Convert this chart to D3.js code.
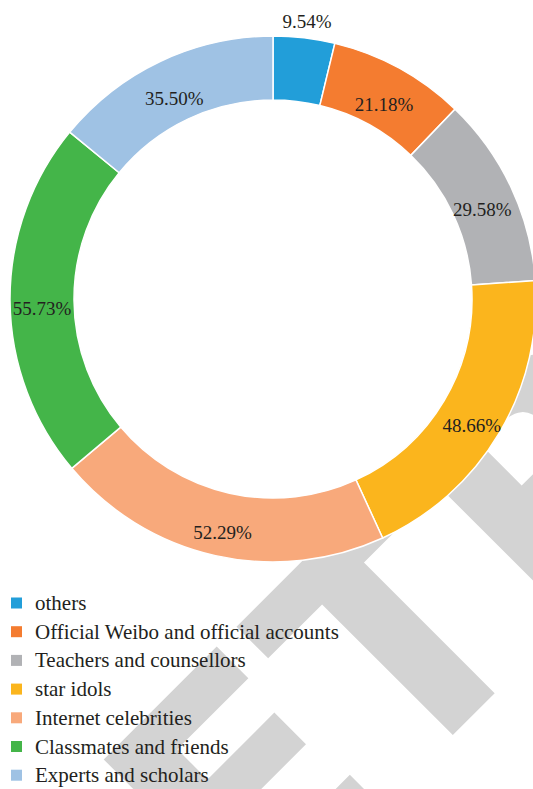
<!DOCTYPE html>
<html>
<head>
<meta charset="utf-8">
<script src="https://cdn.jsdelivr.net/npm/d3@7"></script>
<style>
  body { margin: 0; background: #fff; }
  svg { display: block; }
</style>
</head>
<body>
<svg width="533" height="789"></svg>
<script>
const categories = [
  'others',
  'Official Weibo and official accounts',
  'Teachers and counsellors',
  'star idols',
  'Internet celebrities',
  'Classmates and friends',
  'Experts and scholars'
];
const values = [9.54, 21.18, 29.58, 48.66, 52.29, 55.73, 35.50];
const colors = ['#229ed9', '#f47c30', '#b1b2b5', '#fbb51d', '#f8a97b', '#44b549', '#9fc2e4'];

const svg = d3.select('svg');
const cx = 273, cy = 299;
const outerR = 263, innerR = 199;

// watermark behind everything
const wm = svg.append('g')
    .attr('transform', 'rotate(-45)');
const wmText = wm.append('text')
    .attr('x', 0)
    .attr('y', 840)
    .style('font-family', '"DejaVu Sans", sans-serif')
    .style('font-weight', 'bold')
    .style('font-size', '315px')
    .style('fill', '#d3d3d3')
    .text('RETRACTED');
const tBox = wmText.node().getExtentOfChar(2);
wmText.attr('x', -170 - (tBox.x + tBox.width / 2));

const data = categories.map((c, i) => ({name: c, value: values[i], color: colors[i]}));
const pie = d3.pie().sort(null).value(d => d.value);
const arcs = pie(data);

const arc = d3.arc()
    .innerRadius(innerR)
    .outerRadius(outerR);

const g = svg.append('g')
    .attr('transform', `translate(${cx}, ${cy})`);

g.selectAll('path')
    .data(arcs)
    .enter()
    .append('path')
    .attr('d', arc)
    .style('fill', d => d.data.color)
    .style('stroke', '#fff')
    .style('stroke-width', '1.5px');

const fmt = d3.format('.2f');
g.selectAll('text.lbl')
    .data(arcs)
    .enter()
    .append('text')
    .attr('class', 'lbl')
    .attr('transform', d => {
      const a = (d.startAngle + d.endAngle) / 2;
      const r = (d.endAngle - d.startAngle) < 0.3 ? 288 : 231;
      return `translate(${r * Math.sin(a)}, ${-r * Math.cos(a) + 8.5})`;
    })
    .attr('text-anchor', 'middle')
    .attr('dominant-baseline', 'central')
    .style('font-family', '"Liberation Serif", "Times New Roman", serif')
    .style('font-size', '19px')
    .style('fill', '#231f20')
    .text(d => fmt(d.data.value) + '%');

// legend
const legend = svg.append('g')
    .attr('transform', 'translate(11, 603)');
const rows = legend.selectAll('g')
    .data(data)
    .enter()
    .append('g')
    .attr('transform', (d, i) => `translate(0, ${i * 28.7})`);
rows.append('rect')
    .attr('x', 0)
    .attr('y', -5.5)
    .attr('width', 11)
    .attr('height', 11)
    .style('fill', d => d.color);
rows.append('text')
    .attr('x', 24)
    .attr('y', 0)
    .attr('dominant-baseline', 'central')
    .style('font-family', '"Liberation Serif", "Times New Roman", serif')
    .style('font-size', '21px')
    .style('fill', '#231f20')
    .text(d => d.name);
</script>
</body>
</html>
